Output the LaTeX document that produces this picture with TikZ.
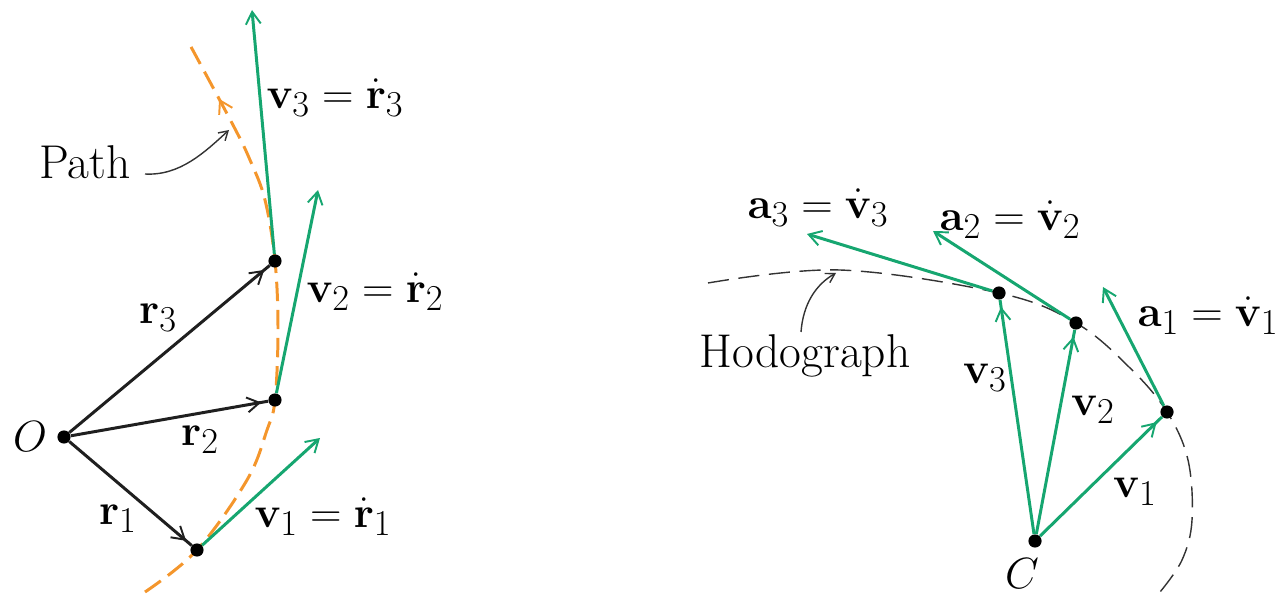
\documentclass[tikz,border=0pt]{standalone}
\usetikzlibrary{arrows.meta,decorations.markings}
\definecolor{vgreen}{RGB}{22,166,112}
\definecolor{porange}{RGB}{244,150,44}
\tikzset{
  tipV/.tip={Straight Barb[length=7pt,width=8.5pt,line width=1.1pt]},
  smalltip/.tip={Straight Barb[length=5pt,width=6pt,line width=0.8pt]},
  dot/.style={circle,fill=black,inner sep=0pt,minimum size=7.5pt},
  lbl/.style={font=\fontsize{24.88}{30}\selectfont,inner sep=1pt},
  txt/.style={font=\fontsize{27}{32}\selectfont,inner sep=1pt},
  gvec/.style={vgreen,line width=1.7pt,-tipV},
  kvec/.style={black!88,line width=1.7pt},
  gmid/.style={vgreen,line width=1.7pt},
  midarrow/.style={postaction={decorate,decoration={markings,mark=at position -#1 with {\arrow{tipV}}}}},
  pointer/.style={black!80,line width=0.8pt,-smalltip},
}
\begin{document}
\begin{tikzpicture}[x=0.02cm,y=-0.02cm]
\useasboundingbox (0,0) rectangle (1280,594);
% ---------- left figure ----------
\draw[porange,line width=1.7pt,dash pattern=on 11pt off 5pt,
  postaction={decorate,decoration={markings,mark=at position 0.9 with {\arrow{tipV}}}}]
  plot[smooth,tension=0.6] coordinates {(145,592) (197,550) (247,480) (267,430) (275,400) (278,330) (275,261) (265,200) (250,160) (233,125) (190,45)};
\node[dot] (O) at (64,437) {};
\node[dot] (P1) at (197,550) {};
\node[dot] (P2) at (275,400) {};
\node[dot] (P3) at (275,261) {};
\coordinate (T1) at (320,438);
\coordinate (T2) at (318,190);
\coordinate (T3) at (252,10);
\draw[kvec,midarrow=4pt] (O) -- (P1);
\draw[kvec,midarrow=4pt] (O) -- (P2);
\draw[kvec,midarrow=4pt] (O) -- (P3);
\draw[gvec] (P1) -- (T1);
\draw[gvec] (P2) -- (T2);
\draw[gvec] (P3) -- (T3);
\node[lbl] (lO) at (30,437) {$O$};
\node[lbl] (lr3) at (158,318) {$\mathbf{r}_3$};
\node[lbl] (lr2) at (200,440) {$\mathbf{r}_2$};
\node[lbl] (lr1) at (118,519) {$\mathbf{r}_1$};
\node[lbl] (lv3) at (335,98) {$\mathbf{v}_3=\dot{\mathbf{r}}_3$};
\node[lbl] (lv2) at (375,292) {$\mathbf{v}_2=\dot{\mathbf{r}}_2$};
\node[lbl] (lv1) at (323,517) {$\mathbf{v}_1=\dot{\mathbf{r}}_1$};
\node[txt] (path) at (85,162) {Path};
\coordinate (pathtip) at (229,130);
\draw[pointer] (145,174) .. controls (180,176) and (205,152) .. (pathtip);
% ---------- right figure ----------
\draw[black!80,line width=0.8pt,dash pattern=on 12pt off 5.5pt]
  plot[smooth,tension=0.6] coordinates {(708,283) (840,270) (999,293) (1076,323) (1130,368) (1167,412) (1188,460) (1192,520) (1182,560) (1160,592)};
\node[dot] (C) at (1035,541) {};
\node[dot] (Q1) at (1167,412) {};
\node[dot] (Q2) at (1076,323) {};
\node[dot] (Q3) at (999,293) {};
\coordinate (A1) at (1103,287);
\coordinate (A2) at (933,231);
\coordinate (A3) at (807,234);
\draw[gmid,midarrow=4pt] (C) -- (Q1);
\draw[gmid,midarrow=4pt] (C) -- (Q2);
\draw[gmid,midarrow=4pt] (C) -- (Q3);
\draw[gvec] (Q1) -- (A1);
\draw[gvec] (Q2) -- (A2);
\draw[gvec] (Q3) -- (A3);
\node[lbl] (lC) at (1022,574) {$C$};
\node[lbl] (lq3) at (985,378) {$\mathbf{v}_3$};
\node[lbl] (lq2) at (1093,410) {$\mathbf{v}_2$};
\node[lbl] (lq1) at (1135,492) {$\mathbf{v}_1$};
\node[lbl] (la3) at (818,208) {$\mathbf{a}_3=\dot{\mathbf{v}}_3$};
\node[lbl] (la2) at (1010,220) {$\mathbf{a}_2=\dot{\mathbf{v}}_2$};
\node[lbl] (la1) at (1208,316) {$\mathbf{a}_1=\dot{\mathbf{v}}_1$};
\node[txt] (hodo) at (805,356) {Hodograph};
\coordinate (hodotip) at (836,273);
\draw[pointer] (801,332) .. controls (803,305) and (815,285) .. (hodotip);
\end{tikzpicture}
\end{document}
